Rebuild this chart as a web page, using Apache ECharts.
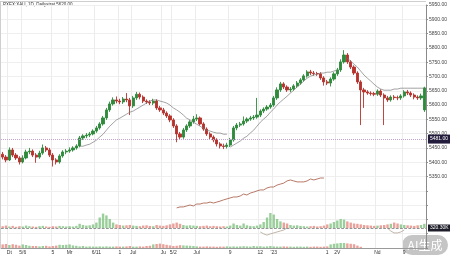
<!DOCTYPE html>
<html><head><meta charset="utf-8">
<script src="https://cdn.jsdelivr.net/npm/echarts@6/dist/echarts.min.js"></script>
<style>html,body{margin:0;padding:0;background:#fff}#c{width:450px;height:257px}</style>
</head><body><div id="c"></div>
<script>
const titleText = 'PXEX:XAU, 1D, Dailystrat 5620.00';
const opens = [5428,5418,5408,5443,5425,5415,5401,5415,5436,5439,
 5425,5418,5432,5450,5443,5425,5408,5401,5422,5436,
 5439,5443,5450,5457,5485,5492,5495,5499,5509,5520,
 5534,5555,5583,5604,5618,5614,5611,5621,5618,5597,
 5625,5638,5628,5614,5611,5607,5614,5590,5583,5572,
 5562,5548,5527,5499,5488,5513,5527,5541,5551,5555,
 5534,5516,5499,5488,5478,5464,5457,5455,5460,5478,
 5520,5530,5534,5544,5551,5555,5558,5565,5579,5586,
 5593,5600,5625,5653,5674,5663,5653,5656,5667,5677,
 5688,5702,5716,5712,5710,5709,5695,5681,5677,5691,
 5709,5723,5751,5775,5751,5733,5712,5681,5653,5646,
 5642,5640,5638,5649,5635,5625,5618,5628,5626,5625,
 5632,5646,5642,5635,5628,5625,5583];
const closes = [5418,5408,5443,5425,5415,5401,5415,5436,5439,5425,
 5418,5432,5450,5443,5425,5408,5401,5422,5436,5439,
 5443,5450,5457,5485,5492,5495,5499,5509,5520,5534,
 5555,5583,5604,5618,5614,5611,5621,5618,5597,5625,
 5638,5628,5614,5611,5607,5614,5590,5583,5572,5562,
 5548,5527,5499,5488,5513,5527,5541,5551,5555,5534,
 5516,5499,5488,5478,5464,5457,5455,5460,5478,5520,
 5530,5534,5544,5551,5555,5558,5565,5579,5586,5593,
 5600,5625,5653,5674,5663,5653,5656,5667,5677,5688,
 5702,5716,5712,5710,5709,5695,5681,5677,5691,5709,
 5723,5751,5775,5751,5733,5712,5681,5653,5646,5642,
 5640,5638,5649,5635,5625,5618,5628,5626,5625,5632,
 5646,5642,5635,5628,5625,5632,5660];
const highs = [5436,5425,5452,5450,5432,5421,5424,5444,5450,5445,
 5432,5440,5462,5457,5450,5432,5414,5428,5442,5446,
 5452,5456,5463,5492,5498,5502,5506,5515,5527,5540,
 5562,5590,5612,5627,5630,5622,5628,5642,5625,5632,
 5646,5644,5634,5620,5617,5622,5620,5597,5590,5578,
 5568,5554,5533,5506,5520,5533,5547,5562,5568,5560,
 5540,5522,5505,5494,5484,5470,5465,5468,5485,5527,
 5537,5541,5560,5557,5562,5565,5625,5585,5592,5600,
 5607,5632,5662,5681,5680,5669,5663,5673,5684,5694,
 5708,5722,5723,5719,5716,5715,5701,5688,5697,5715,
 5730,5760,5792,5782,5757,5739,5718,5687,5660,5652,
 5648,5646,5655,5655,5641,5632,5634,5635,5633,5638,
 5652,5653,5648,5641,5634,5640,5664];
const lows = [5410,5400,5404,5418,5408,5392,5396,5410,5428,5418,
 5398,5412,5426,5436,5418,5385,5392,5395,5416,5428,
 5433,5437,5444,5452,5478,5484,5488,5494,5503,5514,
 5528,5548,5576,5598,5606,5603,5604,5610,5565,5590,
 5618,5620,5607,5604,5600,5600,5583,5576,5565,5555,
 5540,5520,5470,5478,5482,5506,5520,5535,5544,5528,
 5510,5492,5480,5470,5455,5448,5446,5448,5453,5472,
 5512,5523,5528,5537,5545,5548,5552,5558,5572,5580,
 5587,5594,5618,5646,5656,5646,5645,5650,5660,5671,
 5682,5696,5705,5703,5702,5688,5668,5670,5665,5685,
 5702,5716,5745,5744,5726,5705,5674,5530,5590,5636,
 5633,5631,5632,5628,5530,5611,5612,5618,5617,5618,
 5626,5635,5628,5620,5618,5618,5576];
const ma1Start = 23;
const ma1 = [5456,5456,5460,5463,5470,5477,5488,5498,5512,5526,
 5537,5548,5554,5561,5568,5575,5579,5586,5593,5600,
 5607,5614,5618,5618,5614,5611,5607,5600,5590,5583,
 5575,5565,5554,5548,5540,5533,5526,5519,5512,5509,
 5505,5502,5502,5498,5498];
const ma2Start = 68;
const ma2 = [5453,5460,5467,5474,5484,5491,5502,5512,5526,5540,
 5551,5561,5575,5586,5600,5611,5621,5631,5642,5652,
 5663,5673,5684,5694,5701,5705,5708,5712,5712,5715,
 5715,5719,5722];
const ma3Start = 103;
const ma3 = [5764,5754,5743,5733,5719,5705,5694,5684,5673,5663,
 5656,5652,5652,5652,5656,5656,5659,5659,5659,5659,
 5659,5659,5659,5659];
const oscAStart = 52;
const oscA = [16.5,16.9,16.9,17.3,17.7,17.3,18.1,18.1,18.5,18.5,
 18.9,18.5,18.9,19.3,19.8,20.2,20.6,21.0,21.0,21.4,
 22.2,21.8,22.6,23.0,23.5,23.9,23.9,24.7,25.1,25.1,
 25.9,26.3,26.7,27.6,28.0,27.6,27.2,27.2,27.2,27.6,
 28.4,28.0,28.4,28.8,28.8];
const oscB1Start = 77;
const oscB1 = [6.6,5.8,5.3,5.8,6.2,6.6,7.0,7.4,8.2];
const oscB2Start = 115;
const oscB2 = [8.2,7.0,6.2,6.2,6.6,7.4];
const volumeA = [6,8,5,7,4,6,5,8,6,5,
 4,6,7,5,4,6,5,7,6,5,
 6,5,7,14,10,8,9,12,18,35,
 48,42,30,18,12,10,8,9,10,8,
 7,6,8,9,7,6,10,8,7,9,
 12,15,18,14,10,8,9,8,7,6,
 7,8,6,7,6,5,6,5,8,15,
 10,8,15,9,7,6,8,12,20,35,
 50,45,30,22,18,15,10,8,9,7,
 6,5,6,7,5,6,8,12,15,20,
 25,30,28,22,18,15,14,12,10,9,
 8,7,8,9,10,12,14,18,15,12,
 10,9,8,7,9,10,14];
const volumeB = [18,20,15,19,16,12,18,15,11,10,
 10,8,10,11,8,10,12,16,15,16,
 18,13,11,8,10,7,8,7,7,8,
 7,8,7,7,8,7,7,8,10,7,
 7,8,7,10,11,18,20,22,19,16,
 13,10,11,14,13,12,11,10,8,7,
 7,8,7,7,6,7,7,8,7,8,
 7,8,9,8,7,10,8,9,7,8,
 10,8,7,7,8,7,7,6,7,7,
 6,7,6,7,7,6,7,8,18,21,
 23,25,25,23,21,19,12,6,0,0,
 0,0,0,0,0,0,0,0,0,0,
 0,0,0,0,0,0,0];
const tickIndex = [2,6,15,20,28,35,39,48,51,58,68,77,81,97,100,112,120];
const tickText = ['Dt','5/6','5','Mr','6/11','1','Jul','Ju','5/2','Jul','9','12',"'23",'1','2V','Nd','9'];
const priceMin = 5100, priceMax = 5950, priceStep = 50, priceLabelFloor = 5350;
const refLevel = 5481;
const volBaseLabel = '320.30K';

const N = closes.length;
const categories = closes.map((_, i) => String(i));
function pad(start, vals) { const a = new Array(N).fill(null); vals.forEach((v, k) => { a[start + k] = v; }); return a; }
const candles = closes.map((c, i) => [opens[i], c, lows[i], highs[i]]);
const UP = '#2f8a3c', DOWN = '#b5332e';
const volColor = i => closes[i] >= opens[i] ? 'rgba(120,190,120,0.75)' : 'rgba(225,130,120,0.75)';
const volA = volumeA.map((v, i) => ({ value: v, itemStyle: { color: volColor(i) } }));
const volB = volumeB.map((v, i) => ({ value: v, itemStyle: { color: volColor(i) } }));
const font = '"Liberation Sans", Arial, sans-serif';
const chart = echarts.init(document.getElementById('c'));
const L = 1, R = 24;
chart.setOption({
  animation: false,
  grid: [
    { left: L, right: R, top: 5, height: 243 },
    { left: L, right: R, top: 198, height: 30 },
    { left: L, right: R, top: 228, height: 20 }
  ],
  xAxis: [
    { type: 'category', gridIndex: 0, data: categories, boundaryGap: true,
      axisLine: { lineStyle: { color: '#9a9a9a', width: 1 } }, axisTick: { show: false },
      axisLabel: { fontSize: 5, color: '#333', margin: 2, fontFamily: font,
        interval: (idx) => tickIndex.includes(idx),
        formatter: (v, idx) => { const k = tickIndex.indexOf(Number(v)); return k >= 0 ? tickText[k] : ''; } },
      splitLine: { show: true, interval: (idx) => tickIndex.includes(idx), lineStyle: { color: '#ececec', width: 1 } } },
    { type: 'category', gridIndex: 1, data: categories, show: false },
    { type: 'category', gridIndex: 2, data: categories, show: false }
  ],
  yAxis: [
    { type: 'value', gridIndex: 0, position: 'right', min: priceMin, max: priceMax, interval: priceStep, scale: true,
      axisLine: { show: true, lineStyle: { color: '#8a8a8a', width: 1 } },
      axisTick: { show: true, length: 2, lineStyle: { color: '#8a8a8a' } },
      axisLabel: { fontSize: 5, color: '#444', margin: 3, fontFamily: font,
        formatter: v => v >= priceLabelFloor ? v.toFixed(2) : '' },
      splitLine: { show: true, lineStyle: { color: '#efefef', width: 1 } } },
    { type: 'value', gridIndex: 0, min: 0, max: 100, show: false, splitLine: { show: false } },
    { type: 'value', gridIndex: 1, min: 0, max: 100, show: false, splitLine: { show: false } },
    { type: 'value', gridIndex: 2, min: 0, max: 100, show: false, splitLine: { show: false } }
  ],
  series: [
    { type: 'candlestick', xAxisIndex: 0, yAxisIndex: 0, data: candles, barWidth: 2.7,
      itemStyle: { color: UP, color0: DOWN, borderColor: UP, borderColor0: DOWN, borderWidth: 0.9 },
      markLine: { silent: true, symbol: 'none', data: [{ yAxis: refLevel }],
        lineStyle: { color: '#c4a4d4', type: 'dotted', width: 1 },
        label: { position: 'end', distance: 2, formatter: refLevel.toFixed(2), fontSize: 5, color: '#fff',
          backgroundColor: '#241c3c', padding: [2, 2], fontFamily: font } } },
    { type: 'line', xAxisIndex: 0, yAxisIndex: 0, data: pad(ma1Start, ma1), showSymbol: false, connectNulls: false,
      lineStyle: { color: '#7a7a7a', width: 0.7 } },
    { type: 'line', xAxisIndex: 0, yAxisIndex: 0, data: pad(ma2Start, ma2), showSymbol: false, connectNulls: false,
      lineStyle: { color: '#7a7a7a', width: 0.7 } },
    { type: 'line', xAxisIndex: 0, yAxisIndex: 0, data: pad(ma3Start, ma3), showSymbol: false, connectNulls: false,
      lineStyle: { color: '#7a7a7a', width: 0.7 } },
    { type: 'line', xAxisIndex: 0, yAxisIndex: 1, data: pad(oscAStart, oscA), showSymbol: false, connectNulls: false,
      lineStyle: { color: '#a5553f', width: 0.8 } },
    { type: 'line', xAxisIndex: 0, yAxisIndex: 1, data: pad(oscB1Start, oscB1), showSymbol: false, connectNulls: false,
      lineStyle: { color: '#a89684', width: 0.7 } },
    { type: 'line', xAxisIndex: 0, yAxisIndex: 1, data: pad(oscB2Start, oscB2), showSymbol: false, connectNulls: false,
      lineStyle: { color: '#a89684', width: 0.7 } },
    { type: 'bar', xAxisIndex: 1, yAxisIndex: 2, data: volA, barWidth: 2.4,
      markLine: { silent: true, symbol: 'none', data: [{ yAxis: 0 }],
        lineStyle: { color: '#666', type: 'dashed', width: 0.7 },
        label: { position: 'end', distance: 2, formatter: volBaseLabel, fontSize: 5, color: '#fff',
          backgroundColor: '#1e1e2a', padding: [1, 2], fontFamily: font } } },
    { type: 'bar', xAxisIndex: 2, yAxisIndex: 3, data: volB, barWidth: 2.4 }
  ],
  graphic: [
    { type: 'line', shape: { x1: 0, y1: 1.5, x2: 426, y2: 1.5 }, style: { stroke: '#cfcfcf', lineWidth: 1 }, silent: true },
    { type: 'line', shape: { x1: 0.5, y1: 1, x2: 0.5, y2: 248 }, style: { stroke: '#cfcfcf', lineWidth: 1 }, silent: true },
    { type: 'text', left: 3, top: 2, style: { text: titleText, fontSize: 4.5, fill: '#333', fontFamily: font }, silent: true },
    { type: 'rect', shape: { x: 402, y: 235, width: 46, height: 20, r: 10 }, style: { fill: 'rgba(140,140,140,0.5)' }, silent: true },
    { type: 'text', x: 425, y: 245, style: { text: 'AI生成', fontSize: 12, fill: '#ffffff', align: 'center', verticalAlign: 'middle',
      fontFamily: '"Noto Sans CJK SC", sans-serif' }, silent: true }
  ]
});
</script></body></html>
